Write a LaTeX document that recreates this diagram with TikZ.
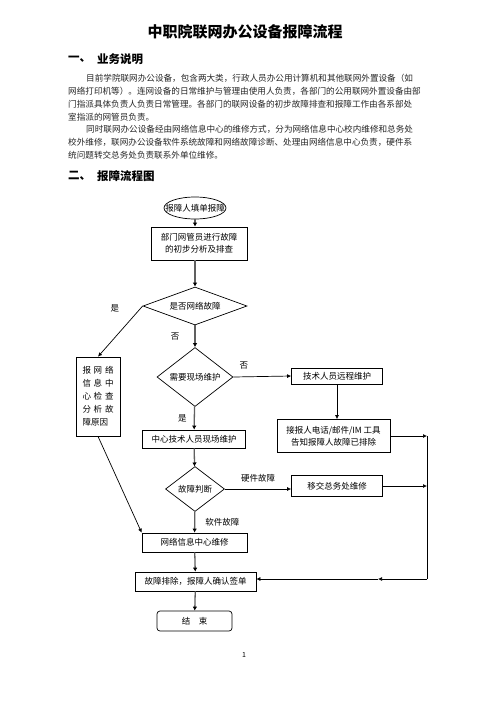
\documentclass[tikz,border=0pt]{standalone}
\usepackage{fontspec}
\setmainfont{Noto Sans CJK SC}
\usetikzlibrary{shapes.geometric,arrows.meta,positioning}
\XeTeXlinebreaklocale "zh"
\XeTeXlinebreakskip=0pt plus 1pt
\XeTeXinterchartokenstate=1
\XeTeXinterchartoks 1 1 = {\hskip 0pt plus 1pt\relax}
\XeTeXinterchartoks 1 3 = {\hskip 0pt plus 1pt\relax}
\XeTeXinterchartoks 3 1 = {\hskip 0pt plus 1pt\relax}
\XeTeXinterchartoks 1 2 = {\hskip 0pt plus 1pt\relax}
\XeTeXinterchartoks 2 1 = {\hskip 0pt plus 1pt\relax}

\newcommand{\bodyline}[2]{\makebox[#1][s]{#2}}

\tikzset{
  flowbox/.style={draw,rectangle,line width=0.7pt,inner sep=1pt,align=center,
    font=\fontsize{8.5}{12.5}\selectfont},
  decision/.style={draw,diamond,line width=0.7pt,inner sep=0pt,
    font=\fontsize{8.5}{10}\selectfont},
  trunk/.style={draw=gray!75!black,line width=1.3pt,-{Latex[length=4pt,width=4.5pt,black]}},
  link/.style={line width=0.7pt,-{Latex[length=4pt,width=4pt]}},
  lbl/.style={font=\fontsize{8.5}{10}\selectfont,inner sep=0pt},
  bodytext/.style={anchor=west,inner sep=0pt,text=black!85,font=\fontsize{8.6}{10}\selectfont}
}

\begin{document}
\begin{tikzpicture}[x=1pt,y=-1pt]
\useasboundingbox[fill=white] (0,0) rectangle (496,702);

% title and text
\node[font=\bfseries\fontsize{15}{15}\selectfont] (title) at (245,32) {中职院联网办公设备报障流程};
\node[anchor=west,inner sep=0pt,font=\bfseries\fontsize{11.5}{12}\selectfont] (h1num) at (68,59) {一、};
\node[anchor=west,inner sep=0pt,font=\bfseries\fontsize{11.5}{12}\selectfont] (h1) at (97,59) {业务说明};
\node[bodytext] (p1) at (86,78) {\bodyline{331pt}{目前学院联网办公设备，包含两大类，行政人员办公用计算机和其他联网外置设备（如}};
\node[bodytext] (p2) at (68,91) {\bodyline{349pt}{网络打印机等）。连网设备的日常维护与管理由使用人负责，各部门的公用联网外置设备由部}};
\node[bodytext] (p3) at (68,104) {\bodyline{349pt}{门指派具体负责人负责日常管理。各部门的联网设备的初步故障排查和报障工作由各系部处}};
\node[bodytext] (p4) at (68,117) {室指派的网管员负责。};
\node[bodytext] (p5) at (86,129) {\bodyline{331pt}{同时联网办公设备经由网络信息中心的维修方式，分为网络信息中心校内维修和总务处}};
\node[bodytext] (p6) at (68,142) {\bodyline{349pt}{校外维修，联网办公设备软件系统故障和网络故障诊断、处理由网络信息中心负责，硬件系}};
\node[bodytext] (p7) at (68,155) {统问题转交总务处负责联系外单位维修。};
\node[anchor=west,inner sep=0pt,font=\bfseries\fontsize{11.5}{12}\selectfont] (h2num) at (68,176) {二、};
\node[anchor=west,inner sep=0pt,font=\bfseries\fontsize{11.5}{12}\selectfont] (h2) at (97,176) {报障流程图};

% flow chart
\node[draw,ellipse,line width=0.7pt,inner sep=0pt,minimum width=62pt,minimum height=22pt,
  font=\fontsize{8.5}{10}\selectfont] (start) at (195,208) {\makebox[40pt]{报障人填单报障}};
\node[flowbox,minimum width=96pt,minimum height=33pt] (check) at (199,243.5) {部门网管员进行故障\\的初步分析及排查};
\node[decision,aspect=2.7,minimum width=104pt,minimum height=38pt] (isnet) at (195,306) {是否网络故障};
\node[decision,aspect=1.3,minimum width=76pt,minimum height=59pt] (needsite) at (195,377) {需要现场维护};
\node[flowbox,minimum width=44pt,minimum height=79pt,align=left,font=\fontsize{8.5}{13}\selectfont] (netbox) at (98,396.5)
  {\makebox[31pt][s]{报\hfil 网\hfil 络}\\\makebox[31pt][s]{信\hfil 息\hfil 中}\\\makebox[31pt][s]{心\hfil 检\hfil 查}\\
   \makebox[31pt][s]{分\hfil 析\hfil 故}\\\makebox[31pt][l]{障原因}};
\node[flowbox,minimum width=91pt,minimum height=16pt] (remote) at (337,376) {技术人员远程维护};
\node[flowbox,minimum width=103pt,minimum height=18pt] (onsite) at (194,439) {中心技术人员现场维护};
\node[flowbox,minimum width=113pt,minimum height=33pt,font=\fontsize{8.5}{12}\selectfont] (notify) at (333.5,436)
  {接报人电话/邮件/IM 工具\\告知报障人故障已排除};
\node[decision,aspect=1.3,minimum width=59pt,minimum height=45pt] (judge) at (195,489) {故障判断};
\node[flowbox,minimum width=91pt,minimum height=21pt] (transfer) at (337,486) {移交总务处维修};
\node[flowbox,minimum width=105pt,minimum height=19pt] (netrepair) at (194.5,542.5) {网络信息中心维修};
\node[flowbox,minimum width=121pt,minimum height=19pt] (confirm) at (195.5,581.5) {故障排除，报障人确认签单};
\node[flowbox,rounded corners=3pt,minimum width=75pt,minimum height=20pt] (finish) at (194.5,621) {结\quad 束};
\coordinate (rtop) at (427,436);
\coordinate (rbot) at (427,579);
\coordinate (rmid) at (378,579);

% connectors
\draw[trunk] (start) -- (start |- check.north);
\draw[trunk] (start |- check.south) -- (isnet.north);
\draw[trunk] (isnet) -- node[lbl,left=15pt] {否} (needsite);
\draw[link] (isnet.west) -- node[lbl,pos=0.15,xshift=-21pt,yshift=5.5pt] {是} (netbox.north);
\draw[link] (needsite.east) -- node[lbl,pos=0.18,above=7pt] {否} (remote.west);
\draw[trunk] (needsite) -- node[lbl,left=7pt] {是} (onsite);
\draw[link] (remote.south) -- (remote.south |- notify.north);
\draw[trunk] (onsite) -- (judge);
\draw[link] (judge.east) -- node[lbl,midway,above=6pt] {硬件故障} (judge.east -| transfer.west);
\draw[trunk] (judge) -- node[lbl,right=10pt] {软件故障} (netrepair);
\draw[link] (netbox.south) -- (netrepair.north west);
\draw[trunk] (netrepair) -- (confirm);
\draw[trunk] (confirm) -- (finish);
\draw[link] (notify.east) -- (rtop);
\draw[link] (transfer.east) -- (transfer.east -| rtop);
\draw[line width=0.7pt] (rtop) -- (rbot);
\draw[link] (rbot) -- (rmid);
\draw[link] (rmid) -- (rmid -| confirm.east);

\node[font=\fontsize{7}{8}\selectfont] (pagenum) at (244,655) {1};
\end{tikzpicture}
\end{document}
